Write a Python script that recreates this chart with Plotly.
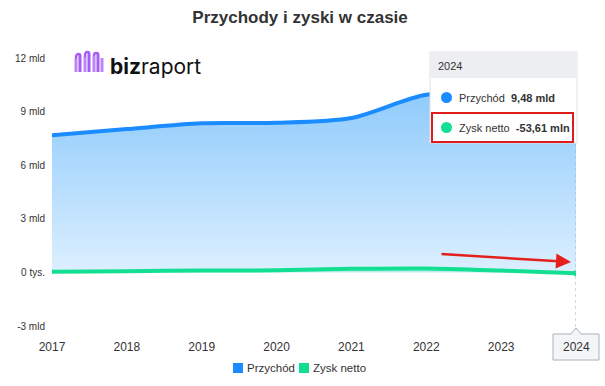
import plotly.graph_objects as go

years = [2017, 2018, 2019, 2020, 2021, 2022, 2023, 2024]
revenue_mld = [7.67, 8.02, 8.35, 8.37, 8.64, 9.94, 9.92, 9.48]
net_profit_mld = [0.04, 0.07, 0.10, 0.12, 0.20, 0.22, 0.10, -0.05361]
ytick_vals = [-3, 0, 3, 6, 9, 12]
ytick_text = ["-3 mld", "0 tys.", "3 mld", "6 mld", "9 mld", "12 mld"]
series_names = ["Przychód", "Zysk netto"]

W, H = 605, 386
L, R, T, B = 52, 576, 58, 326  # plot area in pixels


def px(x):
    return (x - L) / (R - L)


def py(y):
    return (B - y) / (B - T)


def path_px(points):
    return "M" + " L".join(f"{px(x):.5f},{py(y):.5f}" for x, y in points) + " Z"


BLUE = "#1a8cff"
GREEN = "#12df91"
FONT = "Liberation Sans, Arial, sans-serif"

fig = go.Figure()

fig.add_trace(go.Scatter(
    x=years, y=revenue_mld, mode="lines", name=series_names[0],
    line=dict(color=BLUE, width=4, shape="spline", smoothing=0.8),
    fill="tozeroy",
    fillgradient=dict(type="vertical", start=0, stop=10,
                      colorscale=[[0, "#dcefff"], [1, "#8fcbfb"]]),
    showlegend=False, hoverinfo="skip"))
fig.add_trace(go.Scatter(
    x=years, y=net_profit_mld, mode="lines", name=series_names[1],
    line=dict(color=GREEN, width=4, shape="spline", smoothing=0.8),
    fill="tozeroy", fillcolor="rgba(18,223,145,0.18)",
    showlegend=False, hoverinfo="skip"))
# end-point markers
fig.add_trace(go.Scatter(x=years[-1:], y=revenue_mld[-1:], mode="markers",
                         marker=dict(color=BLUE, size=6), showlegend=False, hoverinfo="skip"))
fig.add_trace(go.Scatter(x=years[-1:], y=net_profit_mld[-1:], mode="markers",
                         marker=dict(color=GREEN, size=6), showlegend=False, hoverinfo="skip"))

shapes = []
annotations = []

# dashed crosshair at 2024
shapes.append(dict(type="line", xref="x", yref="paper", x0=2024, x1=2024, y0=py(327), y1=py(143),
                   line=dict(color="#a9b3bd", width=1, dash="dot")))

# tooltip box
shapes.append(dict(type="rect", xref="paper", yref="paper", x0=px(430), x1=px(577), y0=py(143), y1=py(52),
                   fillcolor="white", line=dict(color="#dde1e6", width=1), layer="above"))
shapes.append(dict(type="rect", xref="paper", yref="paper", x0=px(431), x1=px(576), y0=py(78), y1=py(53),
                   fillcolor="#eceef2", line=dict(width=0), layer="above"))
shapes.append(dict(type="circle", xref="paper", yref="paper", x0=px(441), x1=px(452), y0=py(103), y1=py(92),
                   fillcolor=BLUE, line=dict(width=0), layer="above"))
shapes.append(dict(type="circle", xref="paper", yref="paper", x0=px(441), x1=px(452), y0=py(133), y1=py(122),
                   fillcolor=GREEN, line=dict(width=0), layer="above"))
shapes.append(dict(type="rect", xref="paper", yref="paper", x0=px(432), x1=px(573), y0=py(142), y1=py(113),
                   fillcolor="rgba(0,0,0,0)", line=dict(color="#e01b1b", width=2), layer="above"))
annotations.append(dict(xref="paper", yref="paper", x=px(436), y=py(66), text="2024", showarrow=False,
                        xanchor="left", yanchor="middle", font=dict(size=11, color="#333", family=FONT)))
annotations.append(dict(xref="paper", yref="paper", x=px(457), y=py(98), text="Przychód&nbsp; <b>9,48 mld</b>",
                        showarrow=False, xanchor="left", yanchor="middle",
                        font=dict(size=11, color="#333", family=FONT)))
annotations.append(dict(xref="paper", yref="paper", x=px(457), y=py(128),
                        text="Zysk netto&nbsp; <b>-53,61 mln</b>",
                        showarrow=False, xanchor="left", yanchor="middle",
                        font=dict(size=11, color="#333", family=FONT)))

# red arrow
annotations.append(dict(xref="paper", yref="paper", x=px(571), y=py(262), ax=-131, ay=-8,
                        axref="pixel", ayref="pixel", text="", showarrow=True, arrowhead=2,
                        arrowsize=1.2, arrowwidth=2.5, arrowcolor="#e3201c"))

# crosshair label box for 2024 with pointer
shapes.append(dict(type="path", xref="paper", yref="paper", layer="above",
                   path=path_px([(553, 334), (571, 334), (576, 328), (581, 334), (599, 334),
                                 (599, 360), (553, 360)]),
                   fillcolor="#f3f5f7", line=dict(color="#aab2ba", width=1)))
annotations.append(dict(xref="x", yref="paper", x=2024, y=py(347), text="2024", showarrow=False,
                        font=dict(size=12, color="#333", family=FONT),
                        xanchor="center", yanchor="middle"))

# manual legend
legend_items = [(233, BLUE, series_names[0]), (299, GREEN, series_names[1])]
for lx, col, name in legend_items:
    shapes.append(dict(type="rect", xref="paper", yref="paper", x0=px(lx), x1=px(lx + 10),
                       y0=py(373), y1=py(363), fillcolor=col, line=dict(width=0)))
    annotations.append(dict(xref="paper", yref="paper", x=px(lx + 12), y=py(368), text=name,
                            showarrow=False, xanchor="left", yanchor="middle",
                            font=dict(size=11.5, color="#333", family=FONT)))

# logo icon: purple bars with rounded tops
bars = [(76, 59), (80, 55), (85, 57), (89, 53), (94, 56), (98, 54), (102, 58)]
for i, (bx, top) in enumerate(bars):
    col = "#a55df5" if i % 2 else "#bb86f8"
    shapes.append(dict(type="line", xref="paper", yref="paper", x0=px(bx), x1=px(bx),
                       y0=py(72), y1=py(top), layer="above", line=dict(color=col, width=3)))
for (a, b) in [(0, 1), (2, 3), (4, 5)]:
    (xa, ta), (xb, tb) = bars[a], bars[b]
    t = min(ta, tb) - 1
    path = f"M{px(xa):.5f},{py(ta):.5f} Q{px(xa):.5f},{py(t):.5f} {px((xa + xb) / 2):.5f},{py(t):.5f} " \
           f"Q{px(xb):.5f},{py(t):.5f} {px(xb):.5f},{py(tb):.5f}"
    shapes.append(dict(type="path", xref="paper", yref="paper", path=path, layer="above",
                       line=dict(color="#a55df5", width=2.6), fillcolor="rgba(0,0,0,0)"))
annotations.append(dict(xref="paper", yref="paper", x=px(108), y=py(66), text="<b>biz</b>raport",
                        showarrow=False, xanchor="left", yanchor="middle",
                        font=dict(size=21, color="#111", family="Inter, Noto Sans, sans-serif")))

fig.update_layout(
    width=W, height=H,
    margin=dict(l=L, r=W - R, t=T, b=H - B, autoexpand=False),
    paper_bgcolor="white", plot_bgcolor="white",
    showlegend=False,
    title=dict(text="<b>Przychody i zyski w czasie</b>", x=0.496, xref="container", y=1 - 17 / H,
               yref="container", xanchor="center", yanchor="middle",
               font=dict(size=17, color="#333", family=FONT)),
    xaxis=dict(range=[2017, 2024], tickvals=years,
               ticktext=[str(y) if y != years[-1] else "" for y in years],
               showgrid=False, zeroline=False, showline=False, ticks="", automargin=False,
               ticklabelstandoff=12, tickfont=dict(size=12, color="#333", family=FONT)),
    yaxis=dict(range=[-3, 12], tickvals=ytick_vals, ticktext=ytick_text, showgrid=False,
               zeroline=False, showline=False, ticks="", ticklabelstandoff=6, automargin=False,
               tickfont=dict(size=10, color="#333", family=FONT)),
    shapes=shapes, annotations=annotations,
)

fig.write_html("out.html", config={"displayModeBar": False},
               post_script="document.body.style.margin='0';")
